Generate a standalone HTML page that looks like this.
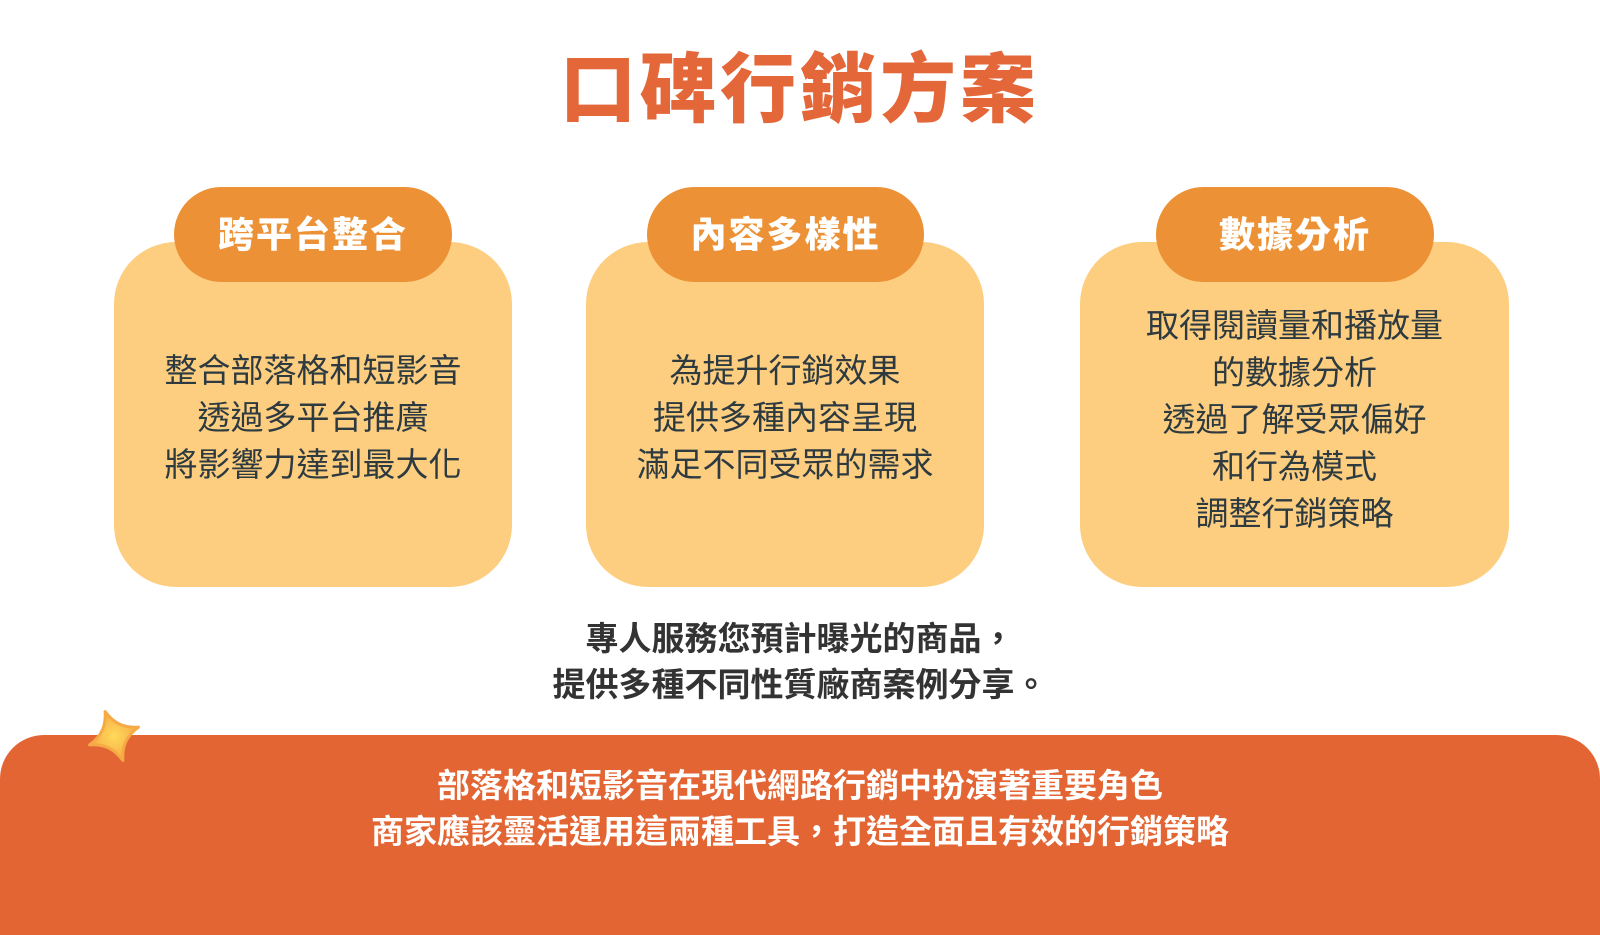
<!DOCTYPE html>
<html><head><meta charset="utf-8"><style>
*{margin:0;padding:0;box-sizing:border-box}
body{width:1600px;height:900px;background:#fff;position:relative;overflow:hidden;font-family:"Liberation Sans","Noto Sans CJK TC",sans-serif}
.t{position:absolute;left:0;width:1600px;text-align:center}
.card{position:absolute;background:#fdce80;border-radius:62px}
.pill{position:absolute;background:#ec9135;border-radius:48px;color:#fff;font-weight:900;font-size:36px;text-align:center;line-height:95px;letter-spacing:2px}
.body{position:absolute;text-align:center;color:#2d3a40;font-size:33px;line-height:47px}
</style></head><body>
<div class="t" style="top:43px;font-size:76px;font-weight:900;color:#e4673a;line-height:96px;letter-spacing:4px">口碑行銷方案</div>

<div class="card" style="left:114px;top:242px;width:398px;height:345px"></div>
<div class="pill" style="left:174px;top:187px;width:278px;height:95px">跨平台整合</div>
<div class="body" style="left:114px;width:398px;top:347px">整合部落格和短影音<br>透過多平台推廣<br>將影響力達到最大化</div>

<div class="card" style="left:586px;top:242px;width:398px;height:345px"></div>
<div class="pill" style="left:647px;top:187px;width:277px;height:95px">內容多樣性</div>
<div class="body" style="left:586px;width:398px;top:347px">為提升行銷效果<br>提供多種內容呈現<br>滿足不同受眾的需求</div>

<div class="card" style="left:1080px;top:242px;width:429px;height:345px"></div>
<div class="pill" style="left:1156px;top:187px;width:278px;height:95px">數據分析</div>
<div class="body" style="left:1080px;width:429px;top:302px">取得閱讀量和播放量<br>的數據分析<br>透過了解受眾偏好<br>和行為模式<br>調整行銷策略</div>

<div class="t" style="top:616px;font-size:33px;font-weight:700;color:#333;line-height:46px">專人服務您預計曝光的商品，<br>提供多種不同性質廠商案例分享。</div>

<div style="position:absolute;left:0;top:735px;width:1600px;height:200px;background:#e36533;border-radius:44px 44px 0 0"></div>
<svg style="position:absolute;left:84px;top:706px" width="60" height="60" viewBox="0 0 60 60">
<defs><radialGradient id="g" cx="0.5" cy="0.5" r="0.5"><stop offset="0" stop-color="#ffd95a"/><stop offset="1" stop-color="#f6aa45"/></radialGradient></defs>
<path d="M30 4 C34 18 42 26 56 30 C42 34 34 42 30 56 C26 42 18 34 4 30 C18 26 26 18 30 4Z" fill="url(#g)" transform="rotate(-20 30 30)" stroke="#f6aa45" stroke-width="3" stroke-linejoin="round"/>
</svg>
<div class="t" style="top:763px;font-size:33px;font-weight:700;color:#fff;line-height:46px">部落格和短影音在現代網路行銷中扮演著重要角色<br>商家應該靈活運用這兩種工具，打造全面且有效的行銷策略</div>
</body></html>
